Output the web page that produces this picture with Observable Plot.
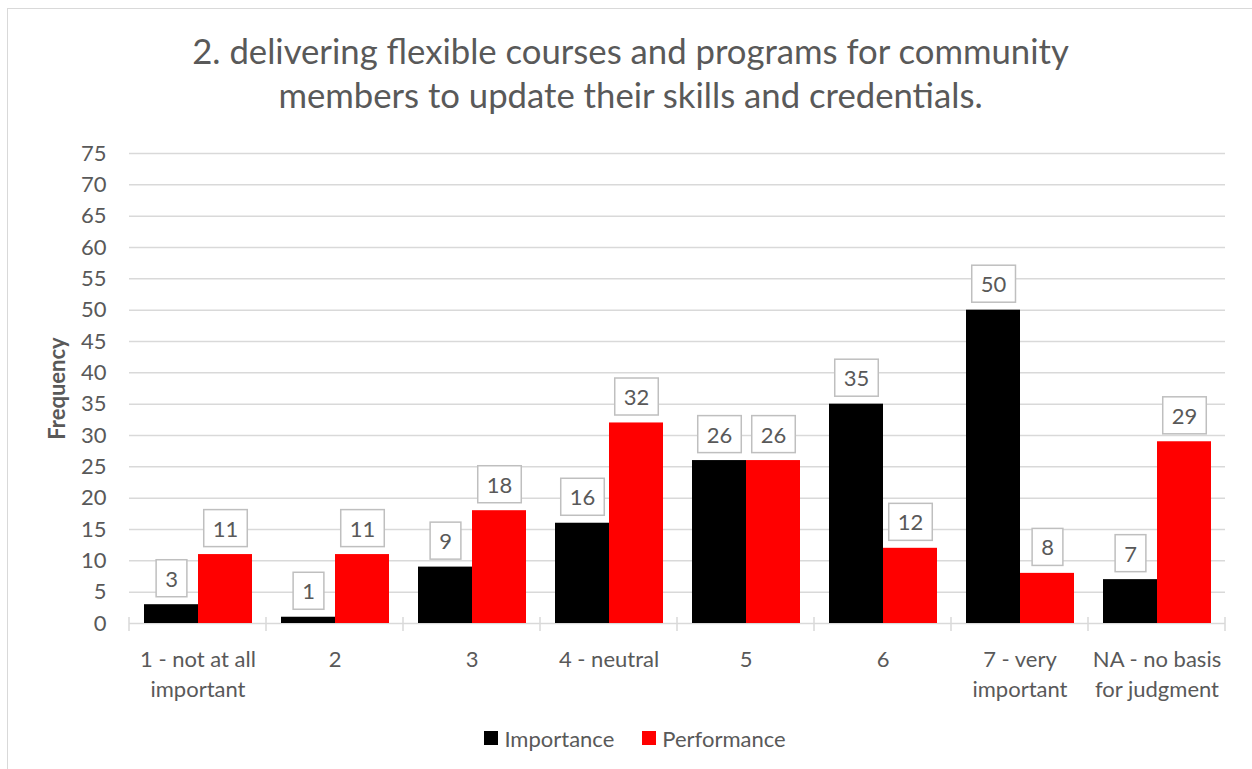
<!DOCTYPE html>
<html><head><meta charset="utf-8">
<script src="https://cdn.jsdelivr.net/npm/d3@7"></script>
<script src="https://cdn.jsdelivr.net/npm/@observablehq/plot@0.6"></script>
<style>
body{margin:0;background:#fff;}
#wrap{position:relative;width:1252px;height:769px;overflow:hidden;font-family:Lato,sans-serif;color:#595959;background:#fff;}
#border{position:absolute;left:7px;top:8px;width:1300px;height:800px;border:1.5px solid #d9d9d9;box-sizing:border-box;pointer-events:none;}
#title{height:139px;box-sizing:border-box;padding-top:29px;padding-left:9px;text-align:center;font-size:34.7px;line-height:44px;white-space:nowrap;}
#chart svg{display:block;}
#legend{height:66px;box-sizing:border-box;padding-top:4px;padding-left:18px;display:flex;justify-content:center;align-items:center;font-size:22px;}
.item{display:flex;align-items:center;margin:0 14px;}
.sw{width:14px;height:14px;margin-right:6px;}
</style></head>
<body><div id="wrap"><div id="border"></div><div id="title">2. delivering flexible courses and programs for community<br>members to update their skills and credentials.</div><div id="chart"></div><div id="legend"></div></div>
<script>
const categories = ["1 - not at all important", "2", "3", "4 - neutral", "5", "6", "7 - very important", "NA - no basis for judgment"];
const categoryLabels = ["1 - not at all\nimportant", "2", "3", "4 - neutral", "5", "6", "7 - very\nimportant", "NA - no basis\nfor judgment"];
const series = ["Importance", "Performance"];
const importance = [3, 1, 9, 16, 26, 35, 50, 7];
const performance = [11, 11, 18, 32, 26, 12, 8, 29];
const seriesColors = ["#000000", "#ff0000"];
const yTicks = [0, 5, 10, 15, 20, 25, 30, 35, 40, 45, 50, 55, 60, 65, 70, 75];

const rows = categories.flatMap((c, i) => [
  {category: c, series: series[0], value: importance[i]},
  {category: c, series: series[1], value: performance[i]}
]);
const labelOf = new Map(categories.map((c, i) => [c, categoryLabels[i]]));

const plot = Plot.plot({
  width: 1252, height: 564,
  marginLeft: 127, marginRight: 26, marginTop: 14, marginBottom: 80,
  style: {fontFamily: "Lato, sans-serif", fontSize: "22px", color: "#595959", background: "transparent", overflow: "visible"},
  fx: {domain: categories, paddingInner: 0, paddingOuter: 0, label: null},
  x: {domain: series, paddingInner: 0, paddingOuter: 0.25, axis: null},
  y: {domain: [0, 75], label: null},
  color: {domain: series, range: seriesColors},
  marks: [
    Plot.gridY(yTicks, {stroke: "#d9d9d9", strokeOpacity: 1, strokeWidth: 1.5}),
    Plot.axisY(yTicks, {tickSize: 0, tickPadding: 23, label: null, fill: "#595959"}),
    Plot.axisY([], {tickSize: 0, label: "Frequency", labelAnchor: "center", labelArrow: "none", labelOffset: 80, fontWeight: "bold", fill: "#595959"}),
    Plot.axisFx({anchor: "bottom", tickSize: 0, tickPadding: 22, tickFormat: d => labelOf.get(d), lineHeight: 1.36, label: null, fill: "#595959"}),
    Plot.barY(rows, {fx: "category", x: "series", y: "value", fill: "series"}),
    Plot.text(rows, {fx: "category", x: "series", y: "value", text: d => String(d.value), dy: -25, className: "bar-label", fill: "#595959"})
  ]
});
document.getElementById("chart").appendChild(plot);

const svg = d3.select(plot);
svg.selectAll("g.bar-label text").each(function() {
  const b = this.getBBox();
  const cy = b.y + b.height / 2;
  d3.select(this.parentNode).insert("rect", () => this)
    .attr("transform", this.getAttribute("transform"))
    .attr("x", b.x - 9).attr("y", cy - 18.5)
    .attr("width", b.width + 18).attr("height", 37)
    .attr("fill", "white").attr("stroke", "#bfbfbf").attr("stroke-width", 1.5);
});

const fx = plot.scale("fx"), y = plot.scale("y");
const y0 = y.apply(0);
const edges = categories.map(c => fx.apply(c)).concat([fx.apply(categories[categories.length - 1]) + fx.bandwidth]);
svg.append("g").selectAll("line").data(edges).join("line")
  .attr("x1", d => d).attr("x2", d => d)
  .attr("y1", y0 - 6).attr("y2", y0 + 8)
  .attr("stroke", "#d9d9d9").attr("stroke-width", 1.5);

const color = plot.scale("color");
const legend = d3.select("#legend");
series.forEach(s => {
  const it = legend.append("div").attr("class", "item");
  it.append("div").attr("class", "sw").style("background", color.apply(s));
  it.append("span").text(s);
});
</script>
</body></html>
